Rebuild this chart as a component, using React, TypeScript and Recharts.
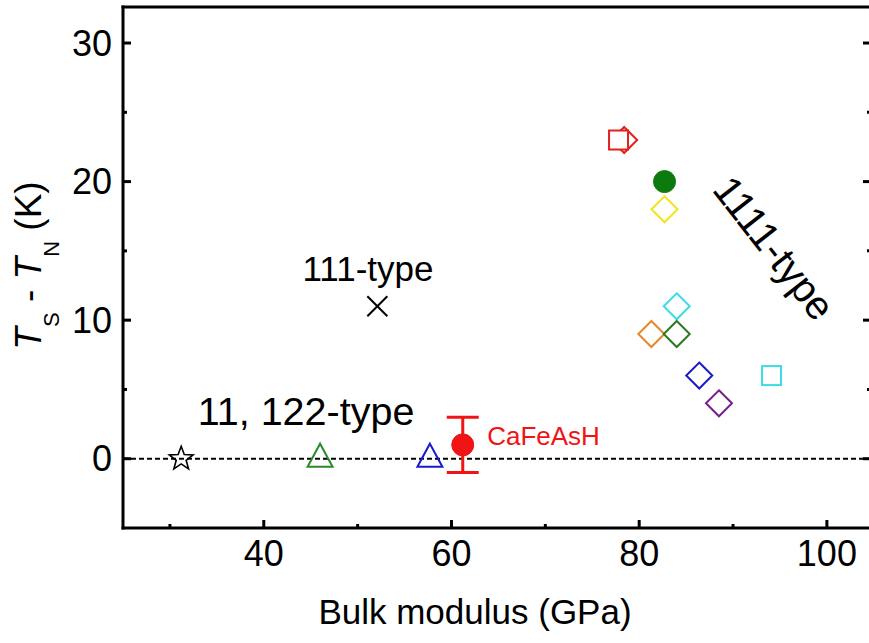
import React from 'react';
import {
  ScatterChart,
  Scatter,
  XAxis,
  YAxis,
  ReferenceLine,
  ReferenceDot,
  ErrorBar,
} from 'recharts';

const FONT = '"Liberation Sans", Arial, Helvetica, sans-serif';

// ---- data ----
const compounds = [
  '11-type',
  '122-type (a)',
  '122-type (b)',
  'CaFeAsH',
  '111-type',
  '1111-type (a)',
  '1111-type (b)',
  '1111-type (c)',
  '1111-type (d)',
  '1111-type (e)',
  '1111-type (f)',
  '1111-type (g)',
  '1111-type (h)',
  '1111-type (i)',
  '1111-type (j)',
];
const bulkModulus = [31.2, 46.0, 57.7, 61.2, 52.1, 78.4, 77.8, 82.7, 82.7, 84.0, 81.3, 84.0, 86.4, 88.5, 94.1];
const tsMinusTn = [0, 0, 0, 1, 11, 23, 23, 20, 18, 11, 9, 9, 6, 4, 6];
const tsMinusTnError = [0, 0, 0, 2, 0, 0, 0, 0, 0, 0, 0, 0, 0, 0, 0];

const xMajorTicks = [40, 60, 80, 100];
const yMajorTicks = [0, 10, 20, 30];
const xAllTicks = [30, 40, 50, 60, 70, 80, 90, 100];
const yAllTicks = [0, 5, 10, 15, 20, 25, 30];

const annotationTexts = ['111-type', '11, 122-type', 'CaFeAsH', '1111-type'];
const annotationX = [51.1, 44.5, 63.8, 94.4];
const annotationY = [12.8, 2.45, 1.0, 15.2];

// ---- styles ----
const markerStyles = [
  { shape: 'star', color: '#000000', fill: 'none' },
  { shape: 'triangle', color: '#2a8a2a', fill: 'none' },
  { shape: 'triangle', color: '#1a1acc', fill: 'none' },
  { shape: 'circle', color: '#f01414', fill: '#f01414' },
  { shape: 'cross', color: '#000000', fill: 'none' },
  { shape: 'diamond', color: '#e2201c', fill: 'none' },
  { shape: 'square', color: '#e2201c', fill: '#ffffff' },
  { shape: 'circle', color: '#0c7a0c', fill: '#0c7a0c' },
  { shape: 'diamond', color: '#f2e41e', fill: 'none' },
  { shape: 'diamond', color: '#3cdce6', fill: 'none' },
  { shape: 'diamond', color: '#e8862a', fill: 'none' },
  { shape: 'diamond', color: '#2a7a22', fill: 'none' },
  { shape: 'diamond', color: '#1a1ac8', fill: 'none' },
  { shape: 'diamond', color: '#76208a', fill: 'none' },
  { shape: 'square', color: '#3cdce6', fill: 'none' },
];

const annotationStyles = [
  { anchor: 'middle', size: 35, color: '#000', angle: 0 },
  { anchor: 'middle', size: 39.5, color: '#000', angle: 0 },
  { anchor: 'start', size: 26, color: '#f01414', angle: 0 },
  { anchor: 'middle', size: 40, color: '#000', angle: 52 },
];

const X_DOMAIN: [number, number] = [25, 104.7];
const Y_DOMAIN: [number, number] = [-5, 32.6];
const MAJOR_LEN = 8;
const MINOR_LEN = 4;
const TICK_FONT = 36;

function Glyph(props: any) {
  const { cx, cy, shape, color, fill } = props;
  if (cx == null || cy == null) return null;
  const sw = 2;
  switch (shape) {
    case 'circle':
      return <circle cx={cx} cy={cy} r={11} fill={fill} stroke={color} strokeWidth={1} />;
    case 'square':
      return <rect x={cx - 9.5} y={cy - 9.5} width={19} height={19} fill={fill} stroke={color} strokeWidth={sw} />;
    case 'diamond':
      return (
        <polygon
          points={`${cx},${cy - 13} ${cx + 13},${cy} ${cx},${cy + 13} ${cx - 13},${cy}`}
          fill={fill}
          stroke={color}
          strokeWidth={sw}
        />
      );
    case 'triangle':
      return (
        <polygon
          points={`${cx},${cy - 15} ${cx + 12.5},${cy + 8} ${cx - 12.5},${cy + 8}`}
          fill={fill}
          stroke={color}
          strokeWidth={sw}
        />
      );
    case 'star': {
      const pts: string[] = [];
      for (let i = 0; i < 10; i++) {
        const r = i % 2 === 0 ? 12.5 : 5.2;
        const a = -Math.PI / 2 + (i * Math.PI) / 5;
        pts.push(`${cx + r * Math.cos(a)},${cy + r * Math.sin(a)}`);
      }
      return <polygon points={pts.join(' ')} fill={fill} stroke={color} strokeWidth={1.6} />;
    }
    case 'cross':
      return (
        <g stroke={color} strokeWidth={2}>
          <line x1={cx - 10} y1={cy - 10} x2={cx + 10} y2={cy + 10} />
          <line x1={cx - 10} y1={cy + 10} x2={cx + 10} y2={cy - 10} />
        </g>
      );
    default:
      return null;
  }
}

function BottomTick(props: any) {
  const { x, y, payload } = props;
  const v = payload.value;
  const major = xMajorTicks.includes(v);
  return (
    <g>
      <line x1={x} x2={x} y1={y} y2={y - (major ? MAJOR_LEN : MINOR_LEN)} stroke="#000" strokeWidth={3} />
      {major ? (
        <text x={x} y={y + 12} dy="0.71em" textAnchor="middle" fontFamily={FONT} fontSize={TICK_FONT} fill="#000">
          {v}
        </text>
      ) : null}
    </g>
  );
}

function TopTick(props: any) {
  const { x, y, payload } = props;
  const major = xMajorTicks.includes(payload.value);
  return <line x1={x} x2={x} y1={y} y2={y + (major ? MAJOR_LEN : MINOR_LEN)} stroke="#000" strokeWidth={3} />;
}

function LeftTick(props: any) {
  const { x, y, payload } = props;
  const v = payload.value;
  const major = yMajorTicks.includes(v);
  return (
    <g>
      <line x1={x} x2={x + (major ? MAJOR_LEN : MINOR_LEN)} y1={y} y2={y} stroke="#000" strokeWidth={3} />
      {major ? (
        <text x={x - 11} y={y} dy="0.355em" textAnchor="end" fontFamily={FONT} fontSize={TICK_FONT} fill="#000">
          {v}
        </text>
      ) : null}
    </g>
  );
}

function RightTick(props: any) {
  const { x, y, payload } = props;
  const major = yMajorTicks.includes(payload.value);
  return <line x1={x} x2={x - (major ? MAJOR_LEN : MINOR_LEN)} y1={y} y2={y} stroke="#000" strokeWidth={3} />;
}

function YTitle(props: any) {
  const vb = props.viewBox || { x: 23, y: 7, width: 100, height: 521 };
  const bx = vb.x + 18;
  const by = vb.y + vb.height / 2 - 2;
  return (
    <text
      x={bx}
      y={by}
      transform={`rotate(-90, ${bx}, ${by})`}
      textAnchor="middle"
      fontFamily={FONT}
      fontSize={37}
      fill="#000"
    >
      <tspan fontStyle="italic">T</tspan>
      <tspan fontSize={22} dy={18}>S</tspan>
      <tspan dy={-18}> - </tspan>
      <tspan fontStyle="italic">T</tspan>
      <tspan fontSize={22} dy={18}>N</tspan>
      <tspan dy={-18}> (K)</tspan>
    </text>
  );
}

function XTitle(props: any) {
  const vb = props.viewBox || { x: 123, y: 528, width: 748, height: 100 };
  return (
    <text
      x={vb.x + 352}
      y={vb.y + 96}
      textAnchor="middle"
      fontFamily={FONT}
      fontSize={35}
      fill="#000"
    >
      Bulk modulus (GPa)
    </text>
  );
}

function makeAnnotation(text: string, style: any) {
  return (p: any) => {
    const vb = p.viewBox;
    const cx = vb.x + vb.width / 2;
    const cy = vb.y + vb.height / 2;
    return (
      <text
        x={cx}
        y={cy}
        textAnchor={style.anchor}
        dominantBaseline={style.angle ? 'central' : 'alphabetic'}
        transform={style.angle ? `rotate(${style.angle}, ${cx}, ${cy})` : undefined}
        fontFamily={FONT}
        fontSize={style.size}
        fill={style.color}
      >
        {text}
      </text>
    );
  };
}

const frameLine = { stroke: '#000', strokeWidth: 3, strokeLinecap: 'square' as const };

export default function App() {
  return (
    <div style={{ position: 'absolute', left: 0, top: 0, width: 869, height: 643, overflow: 'hidden', background: '#fff' }}>
      <ScatterChart width={880} height={643} margin={{ top: 7, right: 9, bottom: 15, left: 23 }}>
        {/* main labelled axes, ticks drawn inward by the tick renderers */}
        <XAxis
          xAxisId="x"
          dataKey="x"
          type="number"
          domain={X_DOMAIN}
          allowDataOverflow
          ticks={xAllTicks}
          interval={0}
          height={100}
          tickLine={false}
          tickSize={0}
          tickMargin={0}
          axisLine={frameLine}
          tick={BottomTick}
          label={{ content: XTitle }}
        />
        <YAxis
          yAxisId="y"
          dataKey="y"
          type="number"
          domain={Y_DOMAIN}
          allowDataOverflow
          ticks={yAllTicks}
          interval={0}
          width={100}
          tickLine={false}
          tickSize={0}
          tickMargin={0}
          axisLine={frameLine}
          tick={LeftTick}
          label={{ content: YTitle }}
        />
        {/* top and right frame with inward ticks (mirrored) */}
        <XAxis
          xAxisId="xt"
          type="number"
          orientation="top"
          mirror
          domain={X_DOMAIN}
          allowDataOverflow
          ticks={xAllTicks}
          interval={0}
          height={1}
          tickLine={false}
          tickSize={0}
          tickMargin={0}
          tick={TopTick}
          axisLine={frameLine}
        />
        <YAxis
          yAxisId="yr"
          type="number"
          orientation="right"
          mirror
          domain={Y_DOMAIN}
          allowDataOverflow
          ticks={yAllTicks}
          interval={0}
          width={1}
          tickLine={false}
          tickSize={0}
          tickMargin={0}
          tick={RightTick}
          axisLine={false}
        />

        <ReferenceLine xAxisId="x" yAxisId="y" y={0} stroke="#000" strokeWidth={2} strokeDasharray="5 3" />

        {compounds.map((name, i) => {
          const st = markerStyles[i];
          const datum = [{ x: bulkModulus[i], y: tsMinusTn[i], err: tsMinusTnError[i] }];
          return (
            <Scatter
              key={name}
              name={name}
              xAxisId="x"
              yAxisId="y"
              data={datum}
              isAnimationActive={false}
              shape={(p: any) => <Glyph cx={p.cx} cy={p.cy} shape={st.shape} color={st.color} fill={st.fill} />}
            >
              {tsMinusTnError[i] > 0 ? (
                <ErrorBar dataKey="err" direction="y" width={16} stroke={st.color} strokeWidth={3} isAnimationActive={false} />
              ) : null}
            </Scatter>
          );
        })}

        {annotationTexts.map((t, i) => (
          <ReferenceDot
            key={t}
            xAxisId="x"
            yAxisId="y"
            x={annotationX[i]}
            y={annotationY[i]}
            r={1}
            fill="none"
            stroke="none"
            label={{ content: makeAnnotation(t, annotationStyles[i]) }}
          />
        ))}
      </ScatterChart>
    </div>
  );
}
